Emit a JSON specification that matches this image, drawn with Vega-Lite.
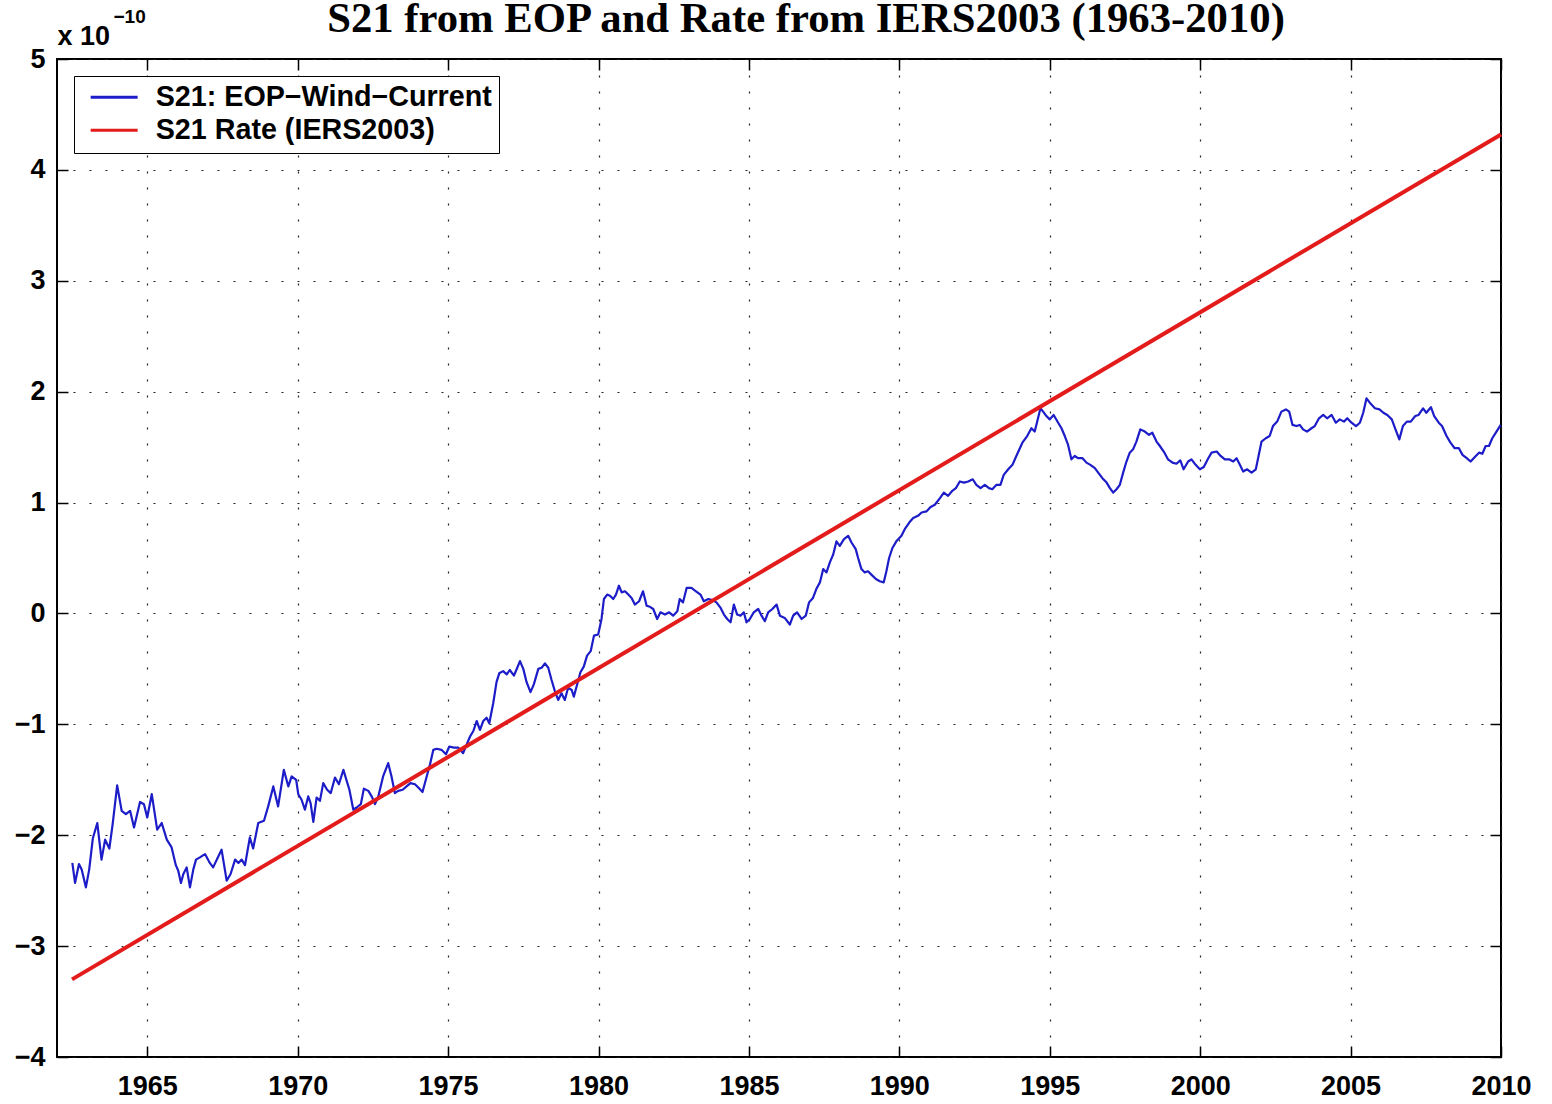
{
  "$schema": "https://vega.github.io/schema/vega-lite/v6.json",
  "autosize": {"type": "none"},
  "padding": {"left": 57, "top": 59, "right": 51, "bottom": 47},
  "width": 1444,
  "height": 998,
  "background": "white",
  "title": {"text": "S21 from EOP and Rate from IERS2003 (1963-2010)", "font": "Liberation Serif", "fontSize": 42.7, "fontWeight": "bold", "color": "black", "anchor": "middle", "frame": "group", "dx": 27, "baseline": "alphabetic", "offset": -68},
  "config": {"view": {"stroke": "black", "strokeWidth": 2}},
  "datasets": {
    "eop": [
      {"t":1962.51,"v":-2.25},{"t":1962.60,"v":-2.43},{"t":1962.73,"v":-2.26},{"t":1962.82,"v":-2.31},{"t":1962.96,"v":-2.47},{"t":1963.07,"v":-2.31},{"t":1963.19,"v":-2.03},{"t":1963.34,"v":-1.89},{"t":1963.48,"v":-2.22},{"t":1963.60,"v":-2.04},{"t":1963.74,"v":-2.12},{"t":1963.85,"v":-1.90},{"t":1964.00,"v":-1.55},{"t":1964.15,"v":-1.78},{"t":1964.29,"v":-1.81},{"t":1964.43,"v":-1.78},{"t":1964.56,"v":-1.93},{"t":1964.76,"v":-1.70},{"t":1964.89,"v":-1.72},{"t":1965.00,"v":-1.84},{"t":1965.15,"v":-1.63},{"t":1965.33,"v":-1.95},{"t":1965.48,"v":-1.89},{"t":1965.65,"v":-2.04},{"t":1965.81,"v":-2.11},{"t":1965.95,"v":-2.27},{"t":1966.03,"v":-2.32},{"t":1966.12,"v":-2.43},{"t":1966.20,"v":-2.35},{"t":1966.31,"v":-2.29},{"t":1966.42,"v":-2.47},{"t":1966.53,"v":-2.31},{"t":1966.62,"v":-2.22},{"t":1966.75,"v":-2.20},{"t":1966.92,"v":-2.17},{"t":1967.08,"v":-2.25},{"t":1967.19,"v":-2.29},{"t":1967.33,"v":-2.21},{"t":1967.47,"v":-2.13},{"t":1967.64,"v":-2.41},{"t":1967.77,"v":-2.35},{"t":1967.92,"v":-2.22},{"t":1968.03,"v":-2.25},{"t":1968.14,"v":-2.22},{"t":1968.25,"v":-2.27},{"t":1968.41,"v":-2.02},{"t":1968.52,"v":-2.12},{"t":1968.69,"v":-1.89},{"t":1968.88,"v":-1.87},{"t":1969.02,"v":-1.74},{"t":1969.19,"v":-1.56},{"t":1969.35,"v":-1.74},{"t":1969.54,"v":-1.41},{"t":1969.69,"v":-1.56},{"t":1969.80,"v":-1.47},{"t":1969.95,"v":-1.50},
      {"t":1970.02,"v":-1.63},{"t":1970.13,"v":-1.68},{"t":1970.24,"v":-1.77},{"t":1970.35,"v":-1.65},{"t":1970.43,"v":-1.71},{"t":1970.52,"v":-1.88},{"t":1970.63,"v":-1.66},{"t":1970.74,"v":-1.69},{"t":1970.85,"v":-1.53},{"t":1970.98,"v":-1.59},{"t":1971.10,"v":-1.62},{"t":1971.24,"v":-1.48},{"t":1971.37,"v":-1.54},{"t":1971.52,"v":-1.41},{"t":1971.63,"v":-1.51},{"t":1971.72,"v":-1.59},{"t":1971.85,"v":-1.77},{"t":1971.96,"v":-1.75},{"t":1972.10,"v":-1.72},{"t":1972.20,"v":-1.58},{"t":1972.35,"v":-1.60},{"t":1972.46,"v":-1.65},{"t":1972.57,"v":-1.72},{"t":1972.68,"v":-1.65},{"t":1972.84,"v":-1.47},{"t":1973.01,"v":-1.35},{"t":1973.12,"v":-1.47},{"t":1973.23,"v":-1.62},{"t":1973.34,"v":-1.60},{"t":1973.49,"v":-1.59},{"t":1973.62,"v":-1.56},{"t":1973.75,"v":-1.53},{"t":1973.90,"v":-1.54},{"t":1974.01,"v":-1.57},{"t":1974.15,"v":-1.61},{"t":1974.28,"v":-1.48},{"t":1974.40,"v":-1.36},{"t":1974.51,"v":-1.23},{"t":1974.62,"v":-1.22},{"t":1974.78,"v":-1.23},{"t":1974.93,"v":-1.27},{"t":1975.04,"v":-1.20},{"t":1975.19,"v":-1.21},{"t":1975.34,"v":-1.21},{"t":1975.50,"v":-1.26},{"t":1975.62,"v":-1.18},{"t":1975.73,"v":-1.11},{"t":1975.84,"v":-1.06},{"t":1975.95,"v":-0.97},{"t":1976.06,"v":-1.05},{"t":1976.17,"v":-0.97},{"t":1976.28,"v":-0.94},{"t":1976.37,"v":-0.99},{"t":1976.50,"v":-0.81},{"t":1976.61,"v":-0.62},{"t":1976.70,"v":-0.54},{"t":1976.83,"v":-0.52},{"t":1976.95,"v":-0.55},{"t":1977.05,"v":-0.51},{"t":1977.19,"v":-0.56},{"t":1977.30,"v":-0.49},{"t":1977.39,"v":-0.43},{"t":1977.50,"v":-0.50},{"t":1977.61,"v":-0.62},{"t":1977.74,"v":-0.71},
      {"t":1977.85,"v":-0.64},{"t":1978.00,"v":-0.50},{"t":1978.11,"v":-0.49},{"t":1978.22,"v":-0.45},{"t":1978.33,"v":-0.49},{"t":1978.44,"v":-0.60},{"t":1978.55,"v":-0.70},{"t":1978.66,"v":-0.78},{"t":1978.77,"v":-0.72},{"t":1978.88,"v":-0.78},{"t":1978.99,"v":-0.67},{"t":1979.11,"v":-0.69},{"t":1979.18,"v":-0.75},{"t":1979.29,"v":-0.64},{"t":1979.40,"v":-0.53},{"t":1979.51,"v":-0.48},{"t":1979.62,"v":-0.38},{"t":1979.74,"v":-0.34},{"t":1979.85,"v":-0.20},{"t":1979.99,"v":-0.19},{"t":1980.10,"v":-0.05},{"t":1980.18,"v":0.13},{"t":1980.29,"v":0.17},{"t":1980.38,"v":0.16},{"t":1980.49,"v":0.13},{"t":1980.58,"v":0.17},{"t":1980.68,"v":0.25},{"t":1980.77,"v":0.19},{"t":1980.88,"v":0.20},{"t":1980.99,"v":0.17},{"t":1981.10,"v":0.14},{"t":1981.21,"v":0.08},{"t":1981.35,"v":0.11},{"t":1981.48,"v":0.20},{"t":1981.60,"v":0.07},{"t":1981.71,"v":0.06},{"t":1981.82,"v":0.04},{"t":1981.95,"v":-0.05},{"t":1982.06,"v":0.01},{"t":1982.21,"v":-0.01},{"t":1982.35,"v":0.01},{"t":1982.48,"v":-0.02},{"t":1982.62,"v":0.02},{"t":1982.70,"v":0.13},{"t":1982.81,"v":0.10},{"t":1982.93,"v":0.23},{"t":1983.09,"v":0.23},{"t":1983.24,"v":0.20},{"t":1983.39,"v":0.17},{"t":1983.50,"v":0.11},{"t":1983.65,"v":0.13},{"t":1983.79,"v":0.12},{"t":1983.92,"v":0.10},{"t":1984.06,"v":0.05},{"t":1984.17,"v":-0.01},{"t":1984.28,"v":-0.05},{"t":1984.39,"v":-0.08},{"t":1984.50,"v":0.08},{"t":1984.61,"v":-0.01},{"t":1984.72,"v":-0.02},{"t":1984.83,"v":0.01},{"t":1984.92,"v":-0.08},{"t":1985.03,"v":-0.05},{"t":1985.16,"v":0.01},{"t":1985.31,"v":0.04},{"t":1985.42,"v":-0.02},{"t":1985.53,"v":-0.07},{"t":1985.64,"v":0.01},{"t":1985.78,"v":0.04},{"t":1985.92,"v":0.08},
      {"t":1986.03,"v":-0.02},{"t":1986.19,"v":-0.04},{"t":1986.36,"v":-0.10},{"t":1986.47,"v":-0.02},{"t":1986.60,"v":0.01},{"t":1986.75,"v":-0.05},{"t":1986.89,"v":-0.02},{"t":1987.00,"v":0.10},{"t":1987.13,"v":0.14},{"t":1987.24,"v":0.22},{"t":1987.36,"v":0.28},{"t":1987.47,"v":0.40},{"t":1987.58,"v":0.37},{"t":1987.69,"v":0.46},{"t":1987.80,"v":0.53},{"t":1987.91,"v":0.65},{"t":1988.02,"v":0.61},{"t":1988.16,"v":0.67},{"t":1988.30,"v":0.70},{"t":1988.41,"v":0.64},{"t":1988.55,"v":0.58},{"t":1988.63,"v":0.50},{"t":1988.74,"v":0.40},{"t":1988.85,"v":0.37},{"t":1988.96,"v":0.38},{"t":1989.07,"v":0.35},{"t":1989.22,"v":0.31},{"t":1989.35,"v":0.29},{"t":1989.48,"v":0.28},{"t":1989.57,"v":0.38},{"t":1989.66,"v":0.50},{"t":1989.77,"v":0.59},{"t":1989.90,"v":0.65},{"t":1990.07,"v":0.70},{"t":1990.18,"v":0.76},{"t":1990.33,"v":0.82},{"t":1990.46,"v":0.86},{"t":1990.62,"v":0.88},{"t":1990.74,"v":0.91},{"t":1990.90,"v":0.92},{"t":1991.04,"v":0.96},{"t":1991.18,"v":0.98},{"t":1991.35,"v":1.04},{"t":1991.48,"v":1.09},{"t":1991.62,"v":1.06},{"t":1991.74,"v":1.10},{"t":1991.88,"v":1.13},{"t":1992.01,"v":1.19},{"t":1992.15,"v":1.18},{"t":1992.29,"v":1.19},{"t":1992.44,"v":1.21},{"t":1992.56,"v":1.16},{"t":1992.70,"v":1.13},{"t":1992.84,"v":1.16},{"t":1992.98,"v":1.13},{"t":1993.09,"v":1.12},{"t":1993.23,"v":1.16},{"t":1993.36,"v":1.16},{"t":1993.47,"v":1.25},{"t":1993.62,"v":1.30},{"t":1993.76,"v":1.34},{"t":1993.89,"v":1.42},
      {"t":1994.09,"v":1.54},{"t":1994.25,"v":1.60},{"t":1994.39,"v":1.67},{"t":1994.50,"v":1.64},{"t":1994.61,"v":1.76},{"t":1994.69,"v":1.85},{"t":1994.78,"v":1.82},{"t":1994.89,"v":1.78},{"t":1995.00,"v":1.75},{"t":1995.13,"v":1.79},{"t":1995.28,"v":1.72},{"t":1995.39,"v":1.67},{"t":1995.50,"v":1.60},{"t":1995.61,"v":1.52},{"t":1995.72,"v":1.39},{"t":1995.83,"v":1.42},{"t":1995.94,"v":1.40},{"t":1996.09,"v":1.40},{"t":1996.22,"v":1.36},{"t":1996.35,"v":1.34},{"t":1996.50,"v":1.31},{"t":1996.61,"v":1.27},{"t":1996.75,"v":1.22},{"t":1996.89,"v":1.18},{"t":1997.00,"v":1.13},{"t":1997.11,"v":1.09},{"t":1997.22,"v":1.12},{"t":1997.33,"v":1.16},{"t":1997.44,"v":1.27},{"t":1997.55,"v":1.37},{"t":1997.66,"v":1.45},{"t":1997.77,"v":1.48},{"t":1997.88,"v":1.55},{"t":1998.01,"v":1.66},{"t":1998.16,"v":1.64},{"t":1998.30,"v":1.61},{"t":1998.41,"v":1.63},{"t":1998.55,"v":1.55},{"t":1998.66,"v":1.51},{"t":1998.79,"v":1.46},{"t":1998.93,"v":1.39},{"t":1999.08,"v":1.36},{"t":1999.21,"v":1.35},{"t":1999.34,"v":1.38},{"t":1999.45,"v":1.30},{"t":1999.60,"v":1.37},{"t":1999.71,"v":1.39},{"t":1999.85,"v":1.34},{"t":1999.99,"v":1.30},{"t":2000.12,"v":1.32},{"t":2000.27,"v":1.40},{"t":2000.38,"v":1.45},{"t":2000.55,"v":1.46},{"t":2000.68,"v":1.42},{"t":2000.82,"v":1.39},{"t":2000.96,"v":1.39},{"t":2001.10,"v":1.37},{"t":2001.21,"v":1.40},{"t":2001.32,"v":1.34},{"t":2001.43,"v":1.28},{"t":2001.56,"v":1.30},{"t":2001.71,"v":1.27},{"t":2001.85,"v":1.30},
      {"t":2002.04,"v":1.55},{"t":2002.18,"v":1.58},{"t":2002.31,"v":1.60},{"t":2002.42,"v":1.69},{"t":2002.56,"v":1.73},{"t":2002.70,"v":1.82},{"t":2002.85,"v":1.84},{"t":2002.96,"v":1.82},{"t":2003.07,"v":1.70},{"t":2003.20,"v":1.69},{"t":2003.31,"v":1.70},{"t":2003.42,"v":1.66},{"t":2003.55,"v":1.64},{"t":2003.70,"v":1.67},{"t":2003.81,"v":1.69},{"t":2003.95,"v":1.76},{"t":2004.09,"v":1.79},{"t":2004.22,"v":1.76},{"t":2004.37,"v":1.79},{"t":2004.51,"v":1.72},{"t":2004.64,"v":1.75},{"t":2004.78,"v":1.73},{"t":2004.89,"v":1.76},{"t":2005.03,"v":1.72},{"t":2005.18,"v":1.69},{"t":2005.31,"v":1.72},{"t":2005.42,"v":1.81},{"t":2005.53,"v":1.94},{"t":2005.67,"v":1.89},{"t":2005.81,"v":1.85},{"t":2005.96,"v":1.84},{"t":2006.09,"v":1.81},{"t":2006.22,"v":1.79},{"t":2006.37,"v":1.75},{"t":2006.48,"v":1.67},{"t":2006.62,"v":1.57},{"t":2006.74,"v":1.69},{"t":2006.87,"v":1.73},{"t":2007.00,"v":1.73},{"t":2007.15,"v":1.78},{"t":2007.26,"v":1.79},{"t":2007.41,"v":1.85},{"t":2007.52,"v":1.81},{"t":2007.67,"v":1.86},{"t":2007.78,"v":1.78},{"t":2007.93,"v":1.72},{"t":2008.04,"v":1.69},{"t":2008.19,"v":1.60},{"t":2008.32,"v":1.54},{"t":2008.46,"v":1.49},{"t":2008.60,"v":1.49},{"t":2008.72,"v":1.43},{"t":2008.86,"v":1.40},{"t":2008.99,"v":1.37},{"t":2009.13,"v":1.41},{"t":2009.27,"v":1.45},{"t":2009.38,"v":1.44},{"t":2009.49,"v":1.51},{"t":2009.60,"v":1.51},{"t":2009.71,"v":1.58},{"t":2009.85,"v":1.64},{"t":2009.99,"v":1.70}
    ],
    "rate": [
      {"t":1962.5,"v":-3.30},
      {"t":2010.0,"v":4.32}
    ]
  },
  "layer": [
    {
      "data": {"name": "eop"},
      "mark": {"type": "line", "strokeWidth": 2.2, "strokeJoin": "round"},
      "encoding": {
        "x": {"field": "t", "type": "quantitative", "scale": {"domain": [1962, 2010], "nice": false, "zero": false},
          "axis": {"orient": "bottom", "values": [1965,1970,1975,1980,1985,1990,1995,2000,2005,2010], "format": "d", "title": null, "domain": false,
            "labelFont": "Liberation Sans", "labelFontWeight": "bold", "labelFontSize": 27, "labelColor": "black", "labelPadding": 27, "labelFlush": false,
            "ticks": true, "tickSize": -11, "tickColor": "black", "tickWidth": 1.5,
            "grid": true, "gridColor": "#222222", "gridDash": [2, 14], "gridWidth": 1.2}},
        "y": {"field": "v", "type": "quantitative", "scale": {"domain": [-4, 5], "nice": false, "zero": false},
          "axis": {"orient": "left", "values": [-4,-3,-2,-1,0,1,2,3,4,5], "title": "x 10", "titleAngle": 0, "titleX": 0, "titleY": -15, "titleAlign": "left", "titleBaseline": "alphabetic",
            "titleFont": "Liberation Sans", "titleFontWeight": "bold", "titleFontSize": 27, "titleColor": "black", "domain": false,
            "labelFont": "Liberation Sans", "labelFontWeight": "bold", "labelFontSize": 27, "labelColor": "black", "labelPadding": 23, "labelFlush": false,
            "ticks": true, "tickSize": -11, "tickColor": "black", "tickWidth": 1.5,
            "grid": true, "gridColor": "#222222", "gridDash": [2, 14], "gridWidth": 1.2}},
        "color": {"datum": "S21: EOP−Wind−Current", "type": "nominal",
          "scale": {"domain": ["S21: EOP−Wind−Current", "S21 Rate (IERS2003)"], "range": ["#1c1cc8", "#e31b1b"]},
          "legend": {"title": null, "orient": "top-left", "offset": 17, "strokeColor": "black", "fillColor": "white", "padding": 7, "cornerRadius": 0,
            "symbolType": "M-0.4,0H3.6", "symbolSize": 552, "symbolStrokeWidth": 3, "labelOffset": 46, "labelFont": "Liberation Sans", "labelFontWeight": "bold", "labelFontSize": 28.7, "labelColor": "black", "rowPadding": 3, "labelLimit": 0}}
      }
    },
    {
      "data": {"name": "rate"},
      "mark": {"type": "line", "strokeWidth": 4},
      "encoding": {
        "x": {"field": "t", "type": "quantitative",
          "axis": {"orient": "top", "values": [1965,1970,1975,1980,1985,1990,1995,2000,2005,2010], "labels": false, "domain": false, "grid": false,
            "title": "−10", "titleX": 56, "titleY": -37, "titleAlign": "left", "titleBaseline": "alphabetic", "titleAngle": 0,
            "titleFont": "Liberation Sans", "titleFontWeight": "bold", "titleFontSize": 19, "titleColor": "black",
            "ticks": true, "tickSize": -11, "tickColor": "black", "tickWidth": 1.5}},
        "y": {"field": "v", "type": "quantitative",
          "axis": {"orient": "right", "values": [-4,-3,-2,-1,0,1,2,3,4,5], "labels": false, "title": null, "domain": false, "grid": false,
            "ticks": true, "tickSize": -11, "tickColor": "black", "tickWidth": 1.5}},
        "color": {"datum": "S21 Rate (IERS2003)", "type": "nominal"}
      }
    }
  ],
  "resolve": {"axis": {"x": "independent", "y": "independent"}}
}
